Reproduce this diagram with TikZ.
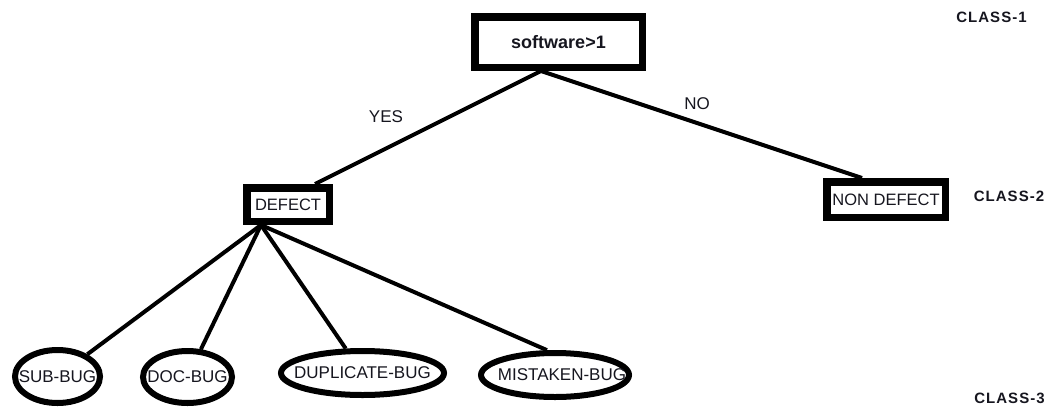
\documentclass[tikz,border=0pt]{standalone}
\usepackage{fontspec}
\setmainfont{Liberation Sans}
\usetikzlibrary{shapes.geometric,backgrounds}
\definecolor{ink}{HTML}{16161F}
\tikzset{
  labeltext/.style={text=ink, font=\fontsize{17}{20}\selectfont, inner sep=0pt},
  classtext/.style={text=ink, inner sep=0pt,
    font=\fontsize{15}{17}\selectfont\bfseries\addfontfeature{LetterSpace=7}},
  testbox/.style={draw=black, line width=7.5pt, fill=white, inner sep=0pt, text=ink},
  leafoval/.style={ellipse, draw=black, line width=6pt, fill=white, inner sep=0pt,
    text=ink, font=\fontsize{17}{20}\selectfont},
  branch/.style={draw=black, line width=4pt}
}
\newcommand{\ovaltext}[1]{\makebox[0pt]{#1}}
\begin{document}
\begin{tikzpicture}[x=1pt,y=-1pt]
  \useasboundingbox (0,0) rectangle (1054,407);

  % decision node and outcomes
  \node[testbox, minimum width=167.5pt, minimum height=50.5pt,
        font=\fontsize{18}{21}\selectfont\bfseries] (root) at (558.5,42) {software>1};
  \node[testbox, minimum width=82.5pt, minimum height=33.5pt,
        font=\fontsize{16.5}{19}\selectfont] (defect) at (288,204.5) {DEFECT};
  \node[testbox, minimum width=118.5pt, minimum height=35.5pt,
        font=\fontsize{16.5}{19}\selectfont] (nondefect) at (886,199.5) {NON DEFECT};

  % defect sub-classes
  \node[leafoval, minimum width=85pt, minimum height=53pt] (sub) at (57.5,376.5) {\ovaltext{SUB-BUG}};
  \node[leafoval, minimum width=89pt, minimum height=52pt] (doc) at (187.5,377) {\ovaltext{DOC-BUG}};
  \node[leafoval, minimum width=163pt, minimum height=44pt] (dup) at (362.5,373) {\ovaltext{DUPLICATE-BUG}};
  \node[leafoval, minimum width=148pt, minimum height=44pt] (mist) at (555,375) {\ovaltext{\hspace{14pt}MISTAKEN-BUG}};

  % branch points
  \coordinate (split) at ([xshift=-17.5pt]root.south);
  \coordinate (fan) at ([xshift=-27pt]defect.south);

  \begin{scope}[on background layer]
    \fill[white] (0,0) rectangle (1054,407);
    \draw[branch] (split) -- ([xshift=27pt]defect.north);
    \draw[branch] (split) -- ([xshift=-24pt]nondefect.north);
    \draw[branch] (fan) -- (sub);
    \draw[branch] (fan) -- (doc);
    \draw[branch] (fan) -- (dup);
    \draw[branch] (fan) -- (mist.108);
  \end{scope}

  % branch labels
  \node[labeltext] (yes) at (386,117) {YES};
  \node[labeltext] (no) at (697,104) {NO};

  % level labels
  \node[classtext] (c1) at (991.5,17) {CLASS-1};
  \node[classtext] (c2) at (1009,196) {CLASS-2};
  \node[classtext] (c3) at (1009.5,398) {CLASS-3};
\end{tikzpicture}
\end{document}
